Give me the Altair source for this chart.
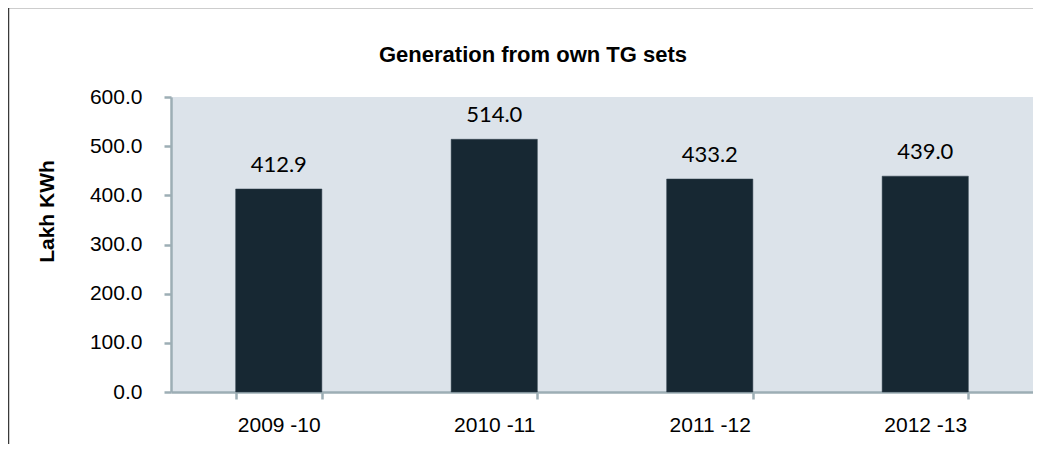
import altair as alt
import pandas as pd

years = ["2009 -10", "2010 -11", "2011 -12", "2012 -13"]
values = [412.9, 514.0, 433.2, 439.0]
y_ticks = [0, 100, 200, 300, 400, 500, 600]
title_text = "Generation from own TG sets"

df = pd.DataFrame({"year": years, "value": values})

AX = "#9DAEB5"
BAR = "#172833"

x_enc = alt.X(
    "year:N",
    sort=years,
    title=None,
    scale=alt.Scale(paddingInner=0.6, paddingOuter=0.3),
    axis=alt.Axis(
        labelAngle=0,
        labelFont="Liberation Sans",
        labelFontSize=21,
        labelColor="#000000",
        labelPadding=15,
        domainColor=AX,
        domainWidth=2.5,
        tickColor=AX,
        tickWidth=2.5,
        tickSize=7,
        tickBand="extent",
    ),
)

y_enc = alt.Y(
    "value:Q",
    title="Lakh KWh",
    scale=alt.Scale(domain=[0, 600], nice=False),
    axis=alt.Axis(
        values=y_ticks,
        format=".1f",
        grid=False,
        labelFont="Liberation Sans",
        labelFontSize=21,
        labelColor="#000000",
        labelPadding=22,
        domainColor=AX,
        domainWidth=2.5,
        tickColor=AX,
        tickWidth=2.5,
        tickSize=7,
        titleFont="Liberation Sans",
        titleFontSize=21,
        titleFontWeight="bold",
        titleColor="#000000",
        titleAngle=-90,
        titleAlign="center",
        titleBaseline="middle",
        titleX=-124,
        titleY=114,
    ),
)

bars = alt.Chart(df).mark_bar(color=BAR, stroke="#2f3f4a", strokeWidth=0.5).encode(x=x_enc, y=y_enc)

labels = alt.Chart(df).mark_text(
    font="Lato", fontSize=22, color="#000000", baseline="alphabetic", dy=-17
).encode(
    x=alt.X("year:N", sort=years),
    y=alt.Y("value:Q"),
    text=alt.Text("value:Q", format=".1f"),
)

one = pd.DataFrame({"t": [title_text]})

title = alt.Chart(one).mark_text(
    font="Liberation Sans", fontSize=22, fontWeight="bold", color="#000000",
    align="center", baseline="alphabetic"
).encode(
    x=alt.value(362),
    y=alt.value(-35),
    text="t:N",
)

border = alt.Chart(one).mark_rect(
    fill=None, stroke="#3a3a3a", strokeWidth=1.5
).encode(
    x=alt.value(-162.5),
    x2=alt.value(900),
    y=alt.value(-89.5),
    y2=alt.value(400),
)

chart = (
    alt.layer(bars, labels, title, border)
    .properties(
        width=862,
        height=295,
        autosize=alt.AutoSizeParams(type="none"),
        padding={"left": 163, "top": 89, "right": 0, "bottom": 52},
    )
    .configure_view(fill="#DCE3EA", stroke=None)
)

chart.save("out.html", embed_options={"renderer": "svg", "actions": False})
